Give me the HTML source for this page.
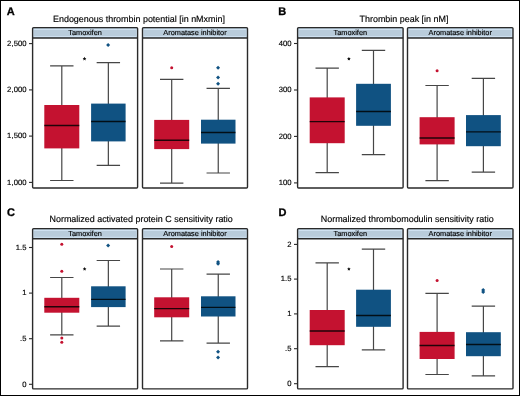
<!DOCTYPE html>
<html><head><meta charset="utf-8"><style>
html,body{margin:0;padding:0;background:#fff;}
svg{display:block;will-change:transform;}
text{font-family:"Liberation Sans", sans-serif;text-rendering:geometricPrecision;}
.lt{font-size:11px;font-weight:bold;fill:#000;stroke:#000;stroke-width:0.3;}
.tt{font-size:8.95px;fill:#000;stroke:#000;stroke-width:0.15;}
.yl{font-size:7.65px;letter-spacing:0.1px;fill:#000;stroke:#000;stroke-width:0.15;text-anchor:end;}
.st{font-size:7.35px;fill:#000;stroke:#000;stroke-width:0.15;text-anchor:middle;}
.tk{stroke:#2a2a2a;stroke-width:1.1;}
.wh{fill:none;stroke:#464646;stroke-width:1.2;}
.md{fill:none;stroke:#000;stroke-opacity:0.83;stroke-width:1.4;}
.fr{fill:none;stroke:#2a2a2a;stroke-width:1.4;}
.sl{fill:none;stroke:#2a2a2a;stroke-width:1.6;}
</style></head><body>
<svg width="520" height="396" viewBox="0 0 520 396">
<rect x="0.5" y="0.5" width="519" height="395" fill="#fff" stroke="#000" stroke-width="1"/>
<text x="6.7" y="14.5" class="lt">A</text>
<text x="53" y="21.75" class="tt">Endogenous thrombin potential [in nMxmin]</text>
<line x1="29" y1="43.6" x2="32.6" y2="43.6" class="tk"/>
<text x="26.7" y="45.8" class="yl">2,500</text>
<line x1="29" y1="89.9" x2="32.6" y2="89.9" class="tk"/>
<text x="26.7" y="92.1" class="yl">2,000</text>
<line x1="29" y1="136.1" x2="32.6" y2="136.1" class="tk"/>
<text x="26.7" y="138.3" class="yl">1,500</text>
<line x1="29" y1="182.4" x2="32.6" y2="182.4" class="tk"/>
<text x="26.7" y="184.6" class="yl">1,000</text>
<rect x="32.6" y="27.6" width="105" height="10.4" fill="#b9ccdb"/>
<rect x="33.5" y="29.5" width="103" height="7" fill="none" stroke="#cfe1f1" stroke-width="1"/>
<text x="85.1" y="35.2" class="st">Tamoxifen</text>
<path d="M61.8 65.8V180.5M50.1 65.8H73.5M50.1 180.5H73.5" class="wh"/>
<rect x="44.3" y="105" width="35" height="43.4" fill="#c41230"/>
<path d="M44.3 125.45H79.3" class="md"/>
<path d="M108.35 62.7V165.4M96.65 62.7H120.05M96.65 165.4H120.05" class="wh"/>
<rect x="91.1" y="103.6" width="34.5" height="37.8" fill="#105282"/>
<path d="M91.1 121.45H125.6" class="md"/>
<path d="M108.15 42.9L110.15 44.9L108.15 46.9L106.15 44.9Z" fill="#105282"/>
<rect x="32.6" y="27.6" width="105" height="160.4" rx="1" class="fr"/>
<path d="M32.6 38H137.6" class="sl"/>
<rect x="142.5" y="27.6" width="105" height="10.4" fill="#b9ccdb"/>
<rect x="143.4" y="29.5" width="103" height="7" fill="none" stroke="#cfe1f1" stroke-width="1"/>
<text x="195" y="35.2" class="st">Aromatase inhibitor</text>
<path d="M171.7 79.4V183.2M160 79.4H183.4M160 183.2H183.4" class="wh"/>
<rect x="154.2" y="119.9" width="35" height="29.2" fill="#c41230"/>
<path d="M154.2 140.25H189.2" class="md"/>
<circle cx="171.7" cy="67.7" r="1.5" fill="#c41230"/>
<path d="M218.25 88.3V173M206.55 88.3H229.95M206.55 173H229.95" class="wh"/>
<rect x="201" y="119.7" width="34.5" height="23.9" fill="#105282"/>
<path d="M201 132.45H235.5" class="md"/>
<path d="M218.05 65.7L220.05 67.7L218.05 69.7L216.05 67.7Z" fill="#105282"/>
<path d="M218.05 75.5L220.05 77.5L218.05 79.5L216.05 77.5Z" fill="#105282"/>
<path d="M218.05 81.8L220.05 83.8L218.05 85.8L216.05 83.8Z" fill="#105282"/>
<rect x="142.5" y="27.6" width="105" height="160.4" rx="1" class="fr"/>
<path d="M142.5 38H247.5" class="sl"/>
<path d="M84.5 56.85L85.09 57.99L86.35 58.2L85.45 59.11L85.65 60.38L84.5 59.8L83.35 60.38L83.55 59.11L82.65 58.2L83.91 57.99Z" fill="#111"/>
<text x="278.2" y="14.6" class="lt">B</text>
<text x="359.5" y="21.75" class="tt">Thrombin peak [in nM]</text>
<line x1="294" y1="43.5" x2="297.6" y2="43.5" class="tk"/>
<text x="291.7" y="45.7" class="yl">400</text>
<line x1="294" y1="90" x2="297.6" y2="90" class="tk"/>
<text x="291.7" y="92.2" class="yl">300</text>
<line x1="294" y1="136.4" x2="297.6" y2="136.4" class="tk"/>
<text x="291.7" y="138.6" class="yl">200</text>
<line x1="294" y1="182.9" x2="297.6" y2="182.9" class="tk"/>
<text x="291.7" y="185.1" class="yl">100</text>
<rect x="297.6" y="27.6" width="105.5" height="10.4" fill="#b9ccdb"/>
<rect x="298.5" y="29.5" width="103.5" height="7" fill="none" stroke="#cfe1f1" stroke-width="1"/>
<text x="350.35" y="35.2" class="st">Tamoxifen</text>
<path d="M327.2 68.2V172.6M315.5 68.2H338.9M315.5 172.6H338.9" class="wh"/>
<rect x="309.7" y="97.4" width="35" height="45.8" fill="#c41230"/>
<path d="M309.7 121.65H344.7" class="md"/>
<path d="M373.5 50.4V154.6M361.8 50.4H385.2M361.8 154.6H385.2" class="wh"/>
<rect x="356.1" y="83.8" width="34.8" height="42" fill="#105282"/>
<path d="M356.1 111.45H390.9" class="md"/>
<rect x="297.6" y="27.6" width="105.5" height="160.4" rx="1" class="fr"/>
<path d="M297.6 38H403.1" class="sl"/>
<rect x="407.5" y="27.6" width="105.5" height="10.4" fill="#b9ccdb"/>
<rect x="408.4" y="29.5" width="103.5" height="7" fill="none" stroke="#cfe1f1" stroke-width="1"/>
<text x="460.25" y="35.2" class="st">Aromatase inhibitor</text>
<path d="M437.1 85.5V180.6M425.4 85.5H448.8M425.4 180.6H448.8" class="wh"/>
<rect x="419.6" y="117.2" width="35" height="27.2" fill="#c41230"/>
<path d="M419.6 137.95H454.6" class="md"/>
<circle cx="437.1" cy="70.7" r="1.5" fill="#c41230"/>
<path d="M483.4 78.3V172.2M471.7 78.3H495.1M471.7 172.2H495.1" class="wh"/>
<rect x="466" y="115.1" width="34.8" height="31.1" fill="#105282"/>
<path d="M466 131.85H500.8" class="md"/>
<rect x="407.5" y="27.6" width="105.5" height="160.4" rx="1" class="fr"/>
<path d="M407.5 38H513" class="sl"/>
<path d="M348.9 57.1L349.49 58.09L350.61 58.34L349.85 59.21L349.96 60.36L348.9 59.9L347.84 60.36L347.95 59.21L347.19 58.34L348.31 58.09Z" fill="#111"/>
<text x="6.9" y="215.6" class="lt">C</text>
<text x="49.5" y="222.35" class="tt">Normalized activated protein C sensitivity ratio</text>
<line x1="29" y1="247.5" x2="32.6" y2="247.5" class="tk"/>
<text x="26.7" y="249.7" class="yl">1.5</text>
<line x1="29" y1="293.1" x2="32.6" y2="293.1" class="tk"/>
<text x="26.7" y="295.3" class="yl">1</text>
<line x1="29" y1="338.7" x2="32.6" y2="338.7" class="tk"/>
<text x="26.7" y="340.9" class="yl">.5</text>
<line x1="29" y1="384.3" x2="32.6" y2="384.3" class="tk"/>
<text x="26.7" y="386.5" class="yl">0</text>
<rect x="32.6" y="228.6" width="105" height="10.2" fill="#b9ccdb"/>
<rect x="33.5" y="230.5" width="103" height="6.8" fill="none" stroke="#cfe1f1" stroke-width="1"/>
<text x="85.1" y="236.2" class="st">Tamoxifen</text>
<path d="M61.8 277.5V334.9M50.1 277.5H73.5M50.1 334.9H73.5" class="wh"/>
<rect x="44.3" y="297.8" width="35" height="14.9" fill="#c41230"/>
<path d="M44.3 306.75H79.3" class="md"/>
<circle cx="61.8" cy="244.3" r="1.5" fill="#c41230"/>
<circle cx="61.8" cy="271.3" r="1.5" fill="#c41230"/>
<circle cx="61.8" cy="337.9" r="1.5" fill="#c41230"/>
<circle cx="61.8" cy="342.3" r="1.5" fill="#c41230"/>
<path d="M108.35 260.5V326.2M96.65 260.5H120.05M96.65 326.2H120.05" class="wh"/>
<rect x="91.1" y="286.3" width="34.5" height="20.8" fill="#105282"/>
<path d="M91.1 299.35H125.6" class="md"/>
<path d="M108.15 243.5L110.15 245.5L108.15 247.5L106.15 245.5Z" fill="#105282"/>
<rect x="32.6" y="228.6" width="105" height="160.3" rx="1" class="fr"/>
<path d="M32.6 238.8H137.6" class="sl"/>
<rect x="142.5" y="228.6" width="105" height="10.2" fill="#b9ccdb"/>
<rect x="143.4" y="230.5" width="103" height="6.8" fill="none" stroke="#cfe1f1" stroke-width="1"/>
<text x="195" y="236.2" class="st">Aromatase inhibitor</text>
<path d="M171.7 269V340.8M160 269H183.4M160 340.8H183.4" class="wh"/>
<rect x="154.2" y="297.3" width="35" height="20" fill="#c41230"/>
<path d="M154.2 308.65H189.2" class="md"/>
<circle cx="171.7" cy="246.4" r="1.5" fill="#c41230"/>
<path d="M218.25 274.1V343.2M206.55 274.1H229.95M206.55 343.2H229.95" class="wh"/>
<rect x="201" y="296.3" width="34.5" height="20.2" fill="#105282"/>
<path d="M201 307.35H235.5" class="md"/>
<path d="M218.05 260L220.05 262L218.05 264L216.05 262Z" fill="#105282"/>
<path d="M218.05 261.8L220.05 263.8L218.05 265.8L216.05 263.8Z" fill="#105282"/>
<path d="M218.05 349.8L220.05 351.8L218.05 353.8L216.05 351.8Z" fill="#105282"/>
<path d="M218.05 355.6L220.05 357.6L218.05 359.6L216.05 357.6Z" fill="#105282"/>
<rect x="142.5" y="228.6" width="105" height="160.3" rx="1" class="fr"/>
<path d="M142.5 238.8H247.5" class="sl"/>
<path d="M84.6 267.05L85.19 268.19L86.45 268.4L85.55 269.31L85.75 270.58L84.6 270L83.45 270.58L83.65 269.31L82.75 268.4L84.01 268.19Z" fill="#111"/>
<text x="278.4" y="215.6" class="lt">D</text>
<text x="320.75" y="222.35" class="tt">Normalized thrombomodulin sensitivity ratio</text>
<line x1="294" y1="244.4" x2="297.6" y2="244.4" class="tk"/>
<text x="291.7" y="246.6" class="yl">2</text>
<line x1="294" y1="279.1" x2="297.6" y2="279.1" class="tk"/>
<text x="291.7" y="281.3" class="yl">1.5</text>
<line x1="294" y1="313.9" x2="297.6" y2="313.9" class="tk"/>
<text x="291.7" y="316.1" class="yl">1</text>
<line x1="294" y1="348.7" x2="297.6" y2="348.7" class="tk"/>
<text x="291.7" y="350.9" class="yl">.5</text>
<line x1="294" y1="383.7" x2="297.6" y2="383.7" class="tk"/>
<text x="291.7" y="385.9" class="yl">0</text>
<rect x="297.6" y="228.6" width="105.5" height="10.2" fill="#b9ccdb"/>
<rect x="298.5" y="230.5" width="103.5" height="6.8" fill="none" stroke="#cfe1f1" stroke-width="1"/>
<text x="350.35" y="236.2" class="st">Tamoxifen</text>
<path d="M327.2 262.9V366.6M315.5 262.9H338.9M315.5 366.6H338.9" class="wh"/>
<rect x="309.7" y="310" width="35" height="35.2" fill="#c41230"/>
<path d="M309.7 330.95H344.7" class="md"/>
<path d="M373.5 249.1V349.9M361.8 249.1H385.2M361.8 349.9H385.2" class="wh"/>
<rect x="356.1" y="289.7" width="34.8" height="37.1" fill="#105282"/>
<path d="M356.1 315.45H390.9" class="md"/>
<rect x="297.6" y="228.6" width="105.5" height="160.3" rx="1" class="fr"/>
<path d="M297.6 238.8H403.1" class="sl"/>
<rect x="407.5" y="228.6" width="105.5" height="10.2" fill="#b9ccdb"/>
<rect x="408.4" y="230.5" width="103.5" height="6.8" fill="none" stroke="#cfe1f1" stroke-width="1"/>
<text x="460.25" y="236.2" class="st">Aromatase inhibitor</text>
<path d="M437.1 293.3V374.5M425.4 293.3H448.8M425.4 374.5H448.8" class="wh"/>
<rect x="419.6" y="331.9" width="35" height="27.1" fill="#c41230"/>
<path d="M419.6 345.55H454.6" class="md"/>
<circle cx="437.1" cy="280.6" r="1.5" fill="#c41230"/>
<path d="M483.4 306.2V375.9M471.7 306.2H495.1M471.7 375.9H495.1" class="wh"/>
<rect x="466" y="332.2" width="34.8" height="24" fill="#105282"/>
<path d="M466 344.45H500.8" class="md"/>
<path d="M483.2 288.1L485.2 290.1L483.2 292.1L481.2 290.1Z" fill="#105282"/>
<path d="M483.2 289.9L485.2 291.9L483.2 293.9L481.2 291.9Z" fill="#105282"/>
<rect x="407.5" y="228.6" width="105.5" height="160.3" rx="1" class="fr"/>
<path d="M407.5 238.8H513" class="sl"/>
<path d="M348.9 267.2L349.49 268.19L350.61 268.44L349.85 269.31L349.96 270.46L348.9 270L347.84 270.46L347.95 269.31L347.19 268.44L348.31 268.19Z" fill="#111"/>
</svg>
</body></html>
